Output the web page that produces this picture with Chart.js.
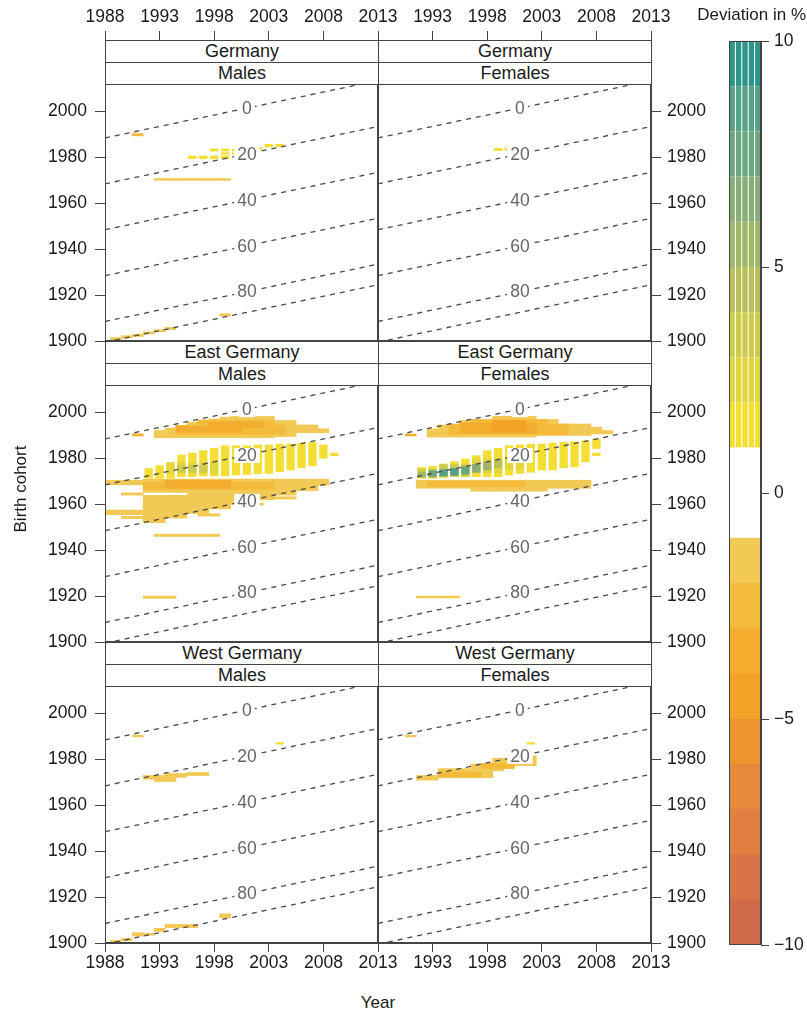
<!DOCTYPE html>
<html>
<head>
<meta charset="utf-8">
<script src="https://cdn.jsdelivr.net/npm/chart.js@4.4.1/dist/chart.umd.min.js"></script>
<style>
  body { margin: 0; background: #fff; font-family: "Liberation Sans", Arial, sans-serif; color: #1a1a1a; }
  #wrap { position: relative; width: 807px; height: 1013px; overflow: hidden; background: #fff; }
  canvas { position: absolute; }
  .strip { position: absolute; box-sizing: border-box; height: 23px; border: 1px solid #444; background: #fff;
           font-size: 18px; line-height: 21px; text-align: center; z-index: 2; }
  .lbl { position: absolute; font-size: 17px; z-index: 3; white-space: nowrap; }
</style>
</head>
<body>
<div id="wrap"></div>
<script>
// axis ticks
const yearTicks = [1988, 1993, 1998, 2003, 2008, 2013];
const cohortTicks = [1900, 1920, 1940, 1960, 1980, 2000];
const legendTicks = [-10, -5, 0, 5, 10];
// dashed age lines (age = year - cohort) and their labels
const ageLines = [0, 20, 40, 60, 80, 89];
const ageLabels = [0, 20, 40, 60, 80];
const regions = ['Germany', 'East Germany', 'West Germany'];
const sexes = ['Males', 'Females'];
// colour key: class limits in % and colours
const breaks = [-10, -9, -8, -7, -6, -5, -4, -3, -2, -1, 1, 2, 3, 4, 5, 6, 7, 8, 9, 10];
const posColors = ['#f4de33', '#e2d63c', '#cccb4c', '#b8c05c', '#9fb66b', '#86ad76', '#6aa680', '#55a088', '#2e968a'];
const negColors = ['#f3c955', '#f4bb3b', '#f4ac2e', '#f3a127', '#eb9430', '#e6893a', '#e07f40', '#d87347', '#cf6a4b'];

// cells: [first year, last year, cohort from, cohort to, deviation in %]
const germanyMales = [
  [1991, 1991, 1989.4, 1990.4, -3],
  [1993, 1999, 1970, 1970.8, -1.6],
  [1996, 1999, 1979.3, 1980.8, 1.5],
  [1999, 2001, 1981.2, 1982.2, 1.5],
  [1998, 2001, 1982.6, 1983.8, 1.5],
  [2002, 2002, 1983.2, 1984.6, 1.5],
  [2003, 2004, 1984.5, 1985.9, 1.5],
  [1989, 1989, 1900.5, 1901.5, -1.6],
  [1990, 1990, 1901.3, 1902.3, -1.6],
  [1991, 1991, 1902, 1903, -1.6],
  [1992, 1992, 1903, 1904, -1.6],
  [1993, 1993, 1904, 1905, -1.6],
  [1994, 1994, 1905, 1906, -1.6],
  [1999, 1999, 1910.9, 1911.9, -1.6]
];
const germanyFemales = [
  [1999, 2000, 1982.8, 1984.1, 1.5]
];
const eastMales = [
  // upper negative band
  [1991, 1991, 1989.8, 1990.7, -3.5],
  [1993, 1993, 1989, 1992.2, -1.8],
  [1994, 1994, 1989, 1993.2, -1.8],
  [1995, 1995, 1989, 1994.4, -1.8],
  [1996, 1996, 1989, 1995.8, -1.8],
  [1997, 1997, 1989, 1996.8, -1.8],
  [1998, 1998, 1989, 1997.2, -1.8],
  [1999, 1999, 1989, 1998, -1.8],
  [2000, 2003, 1989, 1998.3, -1.8],
  [2004, 2005, 1989.5, 1996.5, -1.8],
  [2006, 2007, 1991.2, 1994.6, -1.8],
  [2008, 2008, 1991.2, 1992.9, -1.5],
  [1995, 2004, 1990.5, 1994.4, -2.5],
  [1997, 2003, 1994.4, 1996.5, -2.5],
  [1995, 2000, 1991.5, 1994, -3.5],
  [1998, 2002, 1993.5, 1996, -3.2],
  // lower negative band
  [1988, 1991, 1968.5, 1970.5, -1.8],
  [1992, 2008, 1968.3, 1971, -1.8],
  [1992, 1993, 1952, 1968.3, -1.6],
  [1994, 1995, 1954, 1968.3, -1.6],
  [1996, 1997, 1956, 1968.3, -1.6],
  [1998, 1999, 1958, 1968.3, -1.6],
  [2000, 2001, 1960, 1968.3, -1.6],
  [2002, 2003, 1962, 1968.3, -1.6],
  [2004, 2005, 1964, 1968.3, -1.6],
  [2006, 2007, 1966, 1968.3, -1.6],
  [1992, 2003, 1966.5, 1969.8, -2.8],
  [1994, 1999, 1967, 1970.5, -3.3],
  [1992, 1995, 1964.2, 1964.9, 0],
  [1988, 1991, 1955.5, 1957.5, -1.6],
  [1990, 1991, 1964, 1965, -1.6],
  [1990, 1991, 1953.8, 1954.8, -1.4],
  [1997, 1998, 1954.9, 1955.9, -1.6],
  [2002, 2002, 1959.6, 1960.6, -1.6],
  [2004, 2005, 1962.3, 1963.3, -1.6],
  [1993, 1998, 1946, 1947, -1.6],
  [1992, 1994, 1919, 1920, -1.6],
  // positive band around age 20-30
  [1992, 1992, 1971.2, 1975.8, 1.5],
  [1993, 1993, 1971.2, 1977, 1.5],
  [1994, 1994, 1971.2, 1977.7, 1.5],
  [1995, 1995, 1971.9, 1981.6, 1.5],
  [1996, 1996, 1971.9, 1982.5, 1.5],
  [1997, 1997, 1972.2, 1983.5, 1.5],
  [1998, 1998, 1972.2, 1984.5, 1.5],
  [1999, 1999, 1972.2, 1985.7, 1.5],
  [2000, 2000, 1972.6, 1985.7, 1.5],
  [2001, 2001, 1972.9, 1985.7, 1.5],
  [2002, 2002, 1973.2, 1986, 1.5],
  [2003, 2003, 1973.3, 1986, 1.5],
  [2004, 2004, 1974.1, 1986.4, 1.5],
  [2005, 2005, 1974.8, 1986.4, 1.5],
  [2006, 2006, 1975.8, 1986.8, 1.5],
  [2007, 2007, 1976.7, 1987.1, 1.5],
  [2008, 2008, 1979.9, 1986, 1.5],
  [2009, 2009, 1981, 1982.5, 1.5],
  [1994, 1998, 1973.3, 1978.4, 2.5],
  [1995, 1997, 1974, 1977, 3.2]
];
const eastFemales = [
  // upper negative band
  [1991, 1991, 1989.8, 1990.6, -3.2],
  [1993, 1993, 1989.3, 1992.9, -1.8],
  [1994, 1995, 1989.3, 1994.6, -1.8],
  [1996, 1998, 1989.3, 1996.5, -1.8],
  [1999, 2002, 1989.3, 1998.4, -1.8],
  [2003, 2004, 1990, 1997, -1.8],
  [2005, 2007, 1990, 1995, -1.8],
  [2008, 2008, 1990.7, 1993.6, -1.6],
  [2009, 2009, 1990.7, 1992.2, -1.4],
  [1995, 2005, 1990.5, 1995, -2.6],
  [1997, 2003, 1995, 1997, -2.6],
  [1996, 2002, 1991, 1995.5, -3.6],
  [1999, 2001, 1992, 1996.5, -4.2],
  // lower negative band
  [1992, 2007, 1967, 1970.5, -1.6],
  [1997, 2003, 1965.7, 1967, -1.6],
  [1993, 2001, 1967.5, 1970, -2.6],
  [1992, 1995, 1919.2, 1920, -1.6],
  // positive band around age 20-30
  [1992, 1992, 1971.2, 1976.2, 1.5],
  [1993, 1993, 1971.2, 1976.7, 1.5],
  [1994, 1994, 1971.5, 1977.7, 1.5],
  [1995, 1995, 1971.9, 1978.7, 1.5],
  [1996, 1996, 1971.9, 1979.9, 1.5],
  [1997, 1997, 1971.9, 1981.3, 1.5],
  [1998, 1998, 1971.9, 1983.5, 1.5],
  [1999, 1999, 1971.9, 1984.5, 1.5],
  [2000, 2000, 1972.6, 1985.7, 1.5],
  [2001, 2001, 1973.3, 1986, 1.5],
  [2002, 2002, 1973.8, 1986.4, 1.5],
  [2003, 2003, 1974.8, 1986.4, 1.5],
  [2004, 2004, 1974.8, 1986.8, 1.5],
  [2005, 2005, 1975.8, 1987.1, 1.5],
  [2006, 2006, 1976.2, 1987.4, 1.5],
  [2007, 2007, 1978.4, 1987.8, 1.5],
  [2008, 2008, 1984.2, 1988.6, 1.5],
  [2008, 2008, 1981, 1982.5, 1.5],
  [1992, 1993, 1971.5, 1975.5, 3.2],
  [1994, 1996, 1972, 1977.5, 3.5],
  [1997, 1999, 1973.5, 1980, 3],
  [2000, 2001, 1975, 1980.5, 2.5],
  [1992, 1992, 1971.8, 1974, 6],
  [1993, 1993, 1972, 1974.8, 7.3],
  [1994, 1994, 1972.2, 1975.3, 8.3],
  [1995, 1995, 1972.5, 1975.8, 8.3],
  [1996, 1996, 1973, 1976.5, 7.3],
  [1997, 1997, 1973.8, 1977.5, 6.3],
  [1998, 1998, 1974.8, 1978.5, 5.2],
  [1999, 1999, 1975.8, 1979.5, 4.2]
];
const westMales = [
  [1991, 1991, 1989.8, 1990.5, -1.6],
  [2004, 2004, 1986.5, 1987.5, 1.5],
  [1992, 1993, 1971.4, 1973, -1.8],
  [1993, 1994, 1970.4, 1972.2, -1.8],
  [1994, 1995, 1972.2, 1973.9, -1.8],
  [1996, 1997, 1973, 1974.3, -1.8],
  [1989, 1989, 1900.3, 1901.2, -2],
  [1990, 1990, 1901, 1902, -2],
  [1991, 1991, 1903, 1904.5, -2],
  [1992, 1992, 1903.4, 1904.2, -2],
  [1993, 1993, 1905, 1906.4, -2],
  [1994, 1996, 1906.7, 1908.1, -2],
  [1999, 1999, 1911, 1912.7, -2]
];
const westFemales = [
  [1991, 1991, 1989.8, 1990.5, -1.6],
  [2002, 2002, 1986.5, 1987.5, 1.5],
  [1992, 1993, 1971, 1973, -1.8],
  [1994, 1998, 1972, 1976, -1.8],
  [1997, 1999, 1975, 1978, -1.8],
  [1999, 2002, 1977.3, 1980.5, -1.8],
  [2001, 2002, 1980.5, 1981.5, -1.5],
  [1994, 1997, 1972.5, 1974.5, -2.6],
  [1998, 2000, 1976, 1978.3, -2.4]
];
const panels = [[germanyMales, germanyFemales], [eastMales, eastFemales], [westMales, westFemales]];

// layout
const rowTop = [40, 341, 642];
const colLeft = [105, 378];
const panelW = 273, stripH = 44, panelH = 257, rowH = stripH + panelH;
const yMax = 1900 + 112 * rowH / panelH; // 2012 sits at the bottom of the strips
const cohortShift = 0.5;
const labelYear = 2001;
const fontFam = '"Liberation Sans", Arial, sans-serif';
const tickSize = 17.5;

Chart.defaults.font.family = fontFam;
Chart.defaults.color = '#1a1a1a';

const wrap = document.getElementById('wrap');

function colorFor(v) {
  if (v > 1) return posColors[Math.min(8, Math.ceil(v) - 2)];
  if (v < -1) return negColors[Math.min(8, Math.ceil(-v) - 2)];
  return '#ffffff';
}

function expand(cells, positive) {
  const pts = [], cols = [];
  cells.forEach(([y0, y1, lo, hi, v]) => {
    if ((v > 1) !== positive) return;
    for (let yr = y0; yr <= y1; yr++) {
      pts.push({x: yr, y: [lo, hi]});
      cols.push(colorFor(v));
    }
  });
  return {pts, cols};
}

const framePlugin = {
  id: 'frame',
  afterDraw(chart) {
    const {ctx, chartArea: a} = chart;
    ctx.save();
    ctx.strokeStyle = '#444';
    ctx.lineWidth = 1;
    ctx.strokeRect(Math.round(a.left) + 0.5, Math.round(a.top) + 0.5,
      Math.round(a.right - a.left) - 1, Math.round(a.bottom - a.top) - 1);
    ctx.restore();
  }
};

const ageLabelPlugin = {
  id: 'ageLabels',
  afterDatasetsDraw(chart) {
    const {ctx, scales: {x, y}} = chart;
    if (!y || !x) return;
    ctx.save();
    ctx.font = '17.5px ' + fontFam;
    ctx.textAlign = 'center';
    ctx.textBaseline = 'middle';
    ageLabels.forEach(a => {
      const px = x.getPixelForValue(labelYear);
      const py = y.getPixelForValue(labelYear - a + cohortShift);
      const t = String(a);
      const tw = ctx.measureText(t).width;
      ctx.fillStyle = '#fff';
      ctx.fillRect(px - tw / 2 - 3, py - 7, tw + 6, 15);
      ctx.fillStyle = '#666';
      ctx.fillText(t, px, py + 1);
    });
    ctx.restore();
  }
};

function makePanel(r, c) {
  const cells = panels[r][c];
  const topAxis = r === 0, bottomAxis = r === 2;
  const showX = topAxis || bottomAxis;
  const axisW = c === 0 ? 105 : 69;
  const padL = c === 0 ? 0 : 4, padR = c === 0 ? 30 : 0;
  const padT = topAxis ? 0 : 12, padB = bottomAxis ? 0 : 12;
  const axisH = 40;
  const cv = document.createElement('canvas');
  cv.width = padL + axisW + panelW + padR;
  cv.height = (topAxis ? axisH : padT) + rowH + (bottomAxis ? axisH : padB);
  cv.style.left = (c === 0 ? 0 : colLeft[1] - 4) + 'px';
  cv.style.top = (rowTop[r] - (topAxis ? axisH : padT)) + 'px';
  wrap.appendChild(cv);

  const neg = expand(cells, false);
  const pos = expand(cells, true);

  const lineSets = ageLines.map(a => ({
    type: 'line',
    data: [{x: yearTicks[0], y: yearTicks[0] - a + cohortShift},
           {x: yearTicks[5], y: yearTicks[5] - a + cohortShift}],
    borderColor: '#4a4a4a',
    borderWidth: 1.3,
    borderDash: [5, 5],
    pointRadius: 0,
    fill: false
  }));

  new Chart(cv, {
    type: 'bar',
    data: {
      datasets: lineSets.concat([
        {type: 'bar', data: pos.pts, backgroundColor: pos.cols, borderWidth: 0, grouped: false,
         barPercentage: 0.76, categoryPercentage: 1},
        {type: 'bar', data: neg.pts, backgroundColor: neg.cols, borderWidth: 0, grouped: false,
         barPercentage: 1, categoryPercentage: 1}
      ])
    },
    options: {
      responsive: false,
      animation: false,
      events: [],
      layout: {padding: {left: padL, right: padR, top: padT, bottom: padB}},
      plugins: {legend: {display: false}, tooltip: {enabled: false}},
      scales: {
        x: {
          type: 'linear', min: yearTicks[0], max: yearTicks[5], offset: false,
          position: topAxis ? 'top' : 'bottom',
          display: showX,
          afterBuildTicks: s => { s.ticks = yearTicks.map(v => ({value: v})); },
          afterFit: s => {
            s.height = showX ? axisH : 0;
            s.paddingLeft = 0; s.paddingRight = 0;
          },
          ticks: {
            callback: v => (c === 1 && v === yearTicks[0]) ? '' : String(v),
            font: {size: tickSize}, color: '#1a1a1a', padding: topAxis ? 3 : 1,
            maxRotation: 0, autoSkip: false
          },
          grid: {display: true, drawOnChartArea: false, drawTicks: true, tickLength: 9,
                 color: '#444', offset: false},
          border: {display: true, color: '#444'}
        },
        y: {
          type: 'linear', min: 1900, max: yMax,
          position: c === 0 ? 'left' : 'right',
          afterBuildTicks: s => { s.ticks = cohortTicks.map(v => ({value: v})); },
          afterFit: s => { s.width = axisW; s.paddingTop = 0; s.paddingBottom = 0; },
          ticks: {callback: v => String(v), font: {size: tickSize}, color: '#1a1a1a',
                  padding: c === 0 ? 8 : 6, autoSkip: false},
          grid: {display: true, drawOnChartArea: false, drawTicks: true, tickLength: 10, color: '#444'},
          border: {display: true, color: '#444'}
        }
      }
    },
    plugins: [ageLabelPlugin, framePlugin]
  });

  [regions[r], sexes[c]].forEach((t, k) => {
    const d = document.createElement('div');
    d.className = 'strip';
    d.textContent = t;
    d.style.left = colLeft[c] + 'px';
    d.style.width = (panelW + 1) + 'px';
    d.style.top = (rowTop[r] + k * 22) + 'px';
    wrap.appendChild(d);
  });
}

for (let r = 0; r < 3; r++) for (let c = 0; c < 2; c++) makePanel(r, c);

// colour key
const cb = document.createElement('canvas');
cb.width = 107; cb.height = 1013;
cb.style.left = '700px'; cb.style.top = '0px';
wrap.appendChild(cb);
const keyCols = ['', '', '', '', ''];
const keySets = [];
for (let i = 0; i < breaks.length - 1; i++) {
  const lo = breaks[i], hi = breaks[i + 1];
  keySets.push({
    data: keyCols.map(() => [lo, hi]),
    backgroundColor: colorFor((lo + hi) / 2),
    borderWidth: 0, grouped: false, categoryPercentage: 1,
    barPercentage: lo >= 1 ? 0.84 : 1
  });
}
new Chart(cb, {
  type: 'bar',
  data: {labels: keyCols, datasets: keySets},
  options: {
    responsive: false, animation: false, events: [],
    layout: {padding: {left: 29, top: 41, bottom: 68, right: 0}},
    plugins: {legend: {display: false}, tooltip: {enabled: false}},
    scales: {
      x: {display: false, offset: true},
      y: {
        type: 'linear', min: -10, max: 10, position: 'right',
        afterBuildTicks: s => { s.ticks = legendTicks.map(v => ({value: v})); },
        afterFit: s => { s.width = 46; s.paddingTop = 0; s.paddingBottom = 0; },
        ticks: {callback: v => v < 0 ? '\u2212' + Math.abs(v) : String(v), font: {size: tickSize},
                color: '#1a1a1a', padding: 5},
        grid: {display: true, drawOnChartArea: false, drawTicks: true, tickLength: 8, color: '#444'},
        border: {display: true, color: '#444'}
      }
    }
  },
  plugins: [framePlugin]
});

function addLabel(text, css) {
  const d = document.createElement('div');
  d.className = 'lbl';
  d.textContent = text;
  Object.assign(d.style, css);
  wrap.appendChild(d);
  return d;
}
addLabel('Deviation in %', {right: '1px', top: '5px'});
addLabel('Year', {left: '330px', width: '96px', textAlign: 'center', top: '993px'});
addLabel('Birth cohort', {left: '-39px', width: '120px', textAlign: 'center', top: '479px',
  transform: 'rotate(-90deg)'});
</script>
</body>
</html>
